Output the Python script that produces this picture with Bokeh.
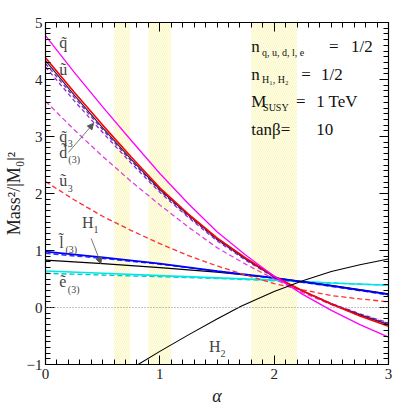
from bokeh.plotting import figure
from bokeh.models import (Range1d, LinearAxis, SingleIntervalTicker, Span, Arrow, NormalHead,
                          CustomJSTickFormatter)
from bokeh.core.properties import value
from bokeh.embed import file_html
from bokeh.resources import INLINE

# ---------------- data ----------------
alpha_f = [0, 0.25, 0.5, 0.75, 1, 1.25, 1.5, 1.75, 2, 2.25, 2.5, 2.75, 3]
sq_q = [4.77, 4.13, 3.52, 2.93, 2.35, 1.82, 1.33, 0.92, 0.55, 0.23, -0.05, -0.30, -0.52]   # magenta solid
sq_u = [4.38, 3.78, 3.20, 2.64, 2.10, 1.64, 1.22, 0.87, 0.55, 0.29, 0.06, -0.15, -0.33]    # red solid
sq_d = [4.33, 3.73, 3.15, 2.60, 2.07, 1.62, 1.20, 0.85, 0.54, 0.29, 0.06, -0.13, -0.30]    # navy solid
sq_d3a = [4.28, 3.69, 3.12, 2.57, 2.05, 1.60, 1.19, 0.85, 0.54, 0.29, 0.07, -0.12, -0.28]  # purple dashed
sq_d3b = [4.22, 3.63, 3.07, 2.53, 2.02, 1.58, 1.17, 0.83, 0.53, 0.29, 0.07, -0.11, -0.27]  # violet dashed
sq_q3 = [3.62, 3.12, 2.65, 2.21, 1.80, 1.41, 1.05, 0.76, 0.50, 0.26, 0.05, -0.14, -0.30]   # magenta dashed
sq_u3 = [2.21, 1.89, 1.60, 1.35, 1.12, 0.91, 0.73, 0.57, 0.42, 0.31, 0.21, 0.15, 0.10]     # red dashed

alpha = [0, 0.5, 1, 1.5, 2, 2.5, 3]
sl_l = [0.98, 0.88, 0.77, 0.64, 0.52, 0.38, 0.23]        # blue solid
sl_l3 = [0.95, 0.86, 0.76, 0.64, 0.51, 0.37, 0.22]       # blue dashed
h_1 = [0.83, 0.77, 0.70, 0.62, 0.52, 0.39, 0.24]         # black H1
se_e = [0.64, 0.60, 0.56, 0.52, 0.48, 0.43, 0.39]        # cyan solid
se_e3 = [0.60, 0.57, 0.54, 0.51, 0.47, 0.43, 0.39]       # cyan dashed

alpha_h2 = [0.81, 1.0, 1.25, 1.5, 1.71, 2.0, 2.25, 2.5, 2.75, 3.0]
h_2 = [-1.0, -0.77, -0.48, -0.20, 0.02, 0.28, 0.47, 0.63, 0.75, 0.85]   # black H2

band_left = [0.6, 0.9, 1.8]
band_right = [0.74, 1.1, 2.2]

FONT = "Liberation Serif"

p = figure(frame_width=343, frame_height=342, x_range=Range1d(0, 3), y_range=Range1d(-1, 5),
           output_backend="svg", toolbar_location=None,
           min_border_left=36, min_border_right=12, min_border_top=22, min_border_bottom=36,
           x_axis_label="α", y_axis_label="Mass²/|M₀|²")
p.grid.visible = False
p.outline_line_color = "black"
p.outline_line_width = 1.2
p.background_fill_color = "white"
p.border_fill_color = "white"

# hatched bands
p.quad(left=band_left, right=band_right, bottom=-1, top=5,
       fill_color="#fffff0", line_color=None,
       hatch_pattern="left_diagonal_line", hatch_color="#f4ee80", hatch_scale=4,
       hatch_weight=0.5, hatch_alpha=0.9)

# zero line
p.add_layout(Span(location=0, dimension="width", line_color="#888888",
                  line_dash="1 2", line_width=1.2))

def ln(xs, ys, color, dash="solid", w=1.3):
    p.line(xs, ys, line_color=color, line_width=w, line_dash=dash)

ln(alpha, se_e3, "#00c8c8", "5 3", 1.4)
ln(alpha, se_e, "#00e5e5", "solid", 1.6)
ln(alpha, h_1, "black", "solid", 1.2)
ln(alpha, sl_l3, "#3030ff", "5 3", 1.4)
ln(alpha, sl_l, "#0000ff", "solid", 1.8)
ln(alpha_f, sq_u3, "#ff3030", "5 3", 1.3)
ln(alpha_f, sq_q3, "#e040e0", "5 3", 1.3)
ln(alpha_f, sq_d3b, "#8a2be2", "4 3", 1.3)
ln(alpha_f, sq_d3a, "#9020a0", "4 3", 1.3)
ln(alpha_f, sq_d, "#202060", "solid", 1.2)
ln(alpha_f, sq_u, "#ff0000", "solid", 1.6)
ln(alpha_f, sq_q, "#ff00ff", "solid", 1.3)
ln(alpha_h2, h_2, "black", "solid", 1.1)

# axes styling
for ax in (p.xaxis[0], p.yaxis[0]):
    ax.ticker = SingleIntervalTicker(interval=1, num_minor_ticks=10)
    ax.major_tick_in = 9
    ax.major_tick_out = 0
    ax.minor_tick_in = 5
    ax.minor_tick_out = 0
    ax.axis_line_color = "black"
    ax.major_label_text_font = FONT
    ax.major_label_text_font_size = "15px"
    ax.major_label_text_color = "#222222"
    ax.axis_label_text_font = FONT
    ax.axis_label_text_font_size = "18px"
    ax.axis_label_text_font_style = "normal"
    ax.axis_label_text_color = "#222222"
p.xaxis[0].major_label_standoff = 4
p.xaxis[0].axis_label_standoff = 4
p.xaxis[0].axis_label_text_font_style = "italic"
p.yaxis[0].major_label_standoff = 3
p.yaxis[0].axis_label_standoff = 0
p.yaxis[0].major_label_overrides = {-1: "\u22121"}

for side in ("above", "right"):
    ax = LinearAxis(ticker=SingleIntervalTicker(interval=1, num_minor_ticks=10),
                    formatter=CustomJSTickFormatter(code="return ''"),
                    major_tick_in=9, major_tick_out=0, minor_tick_in=5, minor_tick_out=0,
                    major_label_text_font_size="1px", major_label_standoff=0,
                    axis_line_color="black")
    p.add_layout(ax, side)

# curve labels
lab_x = [0.12, 0.12, 0.12, 0.12, 0.12, 0.32, 0.12, 0.12, 1.43]
lab_y = [4.65, 4.18, 3.00, 2.72, 2.22, 1.50, 1.14, 0.45, -0.68]
lab_t = ["q\u0303", "u\u0303", "q\u0303", "d\u0303", "u\u0303", "H", "l\u0303", "e\u0303", "H"]
p.text(x=lab_x, y=lab_y, text=lab_t, text_font=value(FONT), text_font_size="16px",
       text_baseline="middle", text_align="left", text_color="#444444")
sub_x = [0.195, 0.2, 0.195, 0.42, 0.175, 0.195, 1.53]
sub_y = [2.87, 2.59, 2.09, 1.37, 1.01, 0.32, -0.81]
sub_t = ["3", "(3)", "3", "1", "(3)", "(3)", "2"]
p.text(x=sub_x, y=sub_y, text=sub_t,
       text_font=value(FONT), text_font_size="10px",
       text_baseline="middle", text_align="left", text_color="#444444")

# arrows
arr_x0 = [0.20, 0.40]
arr_y0 = [2.72, 1.21]
arr_x1 = [0.42, 0.485]
arr_y1 = [3.23, 0.77]
for a, b, c, d in zip(arr_x0, arr_y0, arr_x1, arr_y1):
    p.add_layout(Arrow(end=NormalHead(size=6, fill_color="#555555", line_color="#555555"),
                       x_start=a, y_start=b, x_end=c, y_end=d,
                       line_color="#555555", line_width=0.8))

# parameter box text
big_x = [1.8, 2.48, 2.673, 1.8, 2.236, 2.41, 1.8, 2.19, 2.367, 1.8, 2.367]
big_y = [4.58, 4.58, 4.58, 4.09, 4.09, 4.09, 3.62, 3.62, 3.62, 3.12, 3.12]
big_t = ["n", "=", "1/2", "n", "=", "1/2", "M", "=", "1 TeV", "tan\u03b2=", "10"]
p.text(x=big_x, y=big_y, text=big_t, text_font=value(FONT), text_font_size="17px",
       text_baseline="middle", text_align="left", text_color="#111111")
small_x = [1.894, 1.894, 1.903]
small_y = [4.47, 4.00, 3.51]
small_t = ["q,  u,  d,  l,  e", "H\u2081,  H\u2082", "SUSY"]
p.text(x=small_x, y=small_y, text=small_t, text_font=value(FONT), text_font_size="10px",
       text_baseline="middle", text_align="left", text_color="#111111")

open("out.html", "w").write(file_html(p, INLINE))
